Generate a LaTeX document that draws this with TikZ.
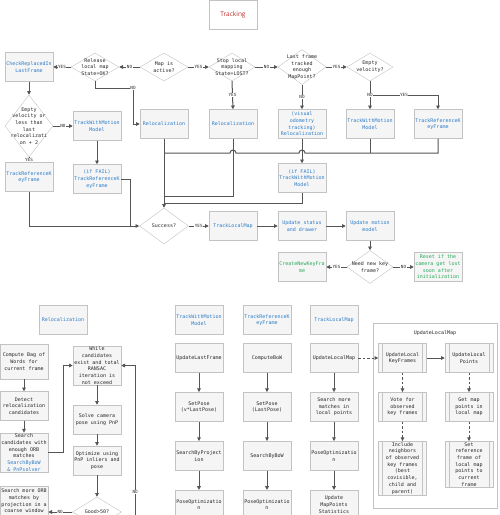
\documentclass[tikz,border=0pt]{standalone}
\usepackage{fontspec}
\usetikzlibrary{arrows.meta, shapes.geometric, positioning, calc, shadows}
\newfontfamily\codefont{DejaVu Sans Mono}
\newfontfamily\titlefont{Open Sans}
\definecolor{boxfill}{RGB}{245,245,245}
\definecolor{boxline}{RGB}{195,195,195}
\definecolor{linecol}{RGB}{85,85,85}
\definecolor{textgray}{RGB}{40,40,40}
\definecolor{callblue}{RGB}{45,125,200}
\definecolor{keepgreen}{RGB}{40,170,90}
\definecolor{titlered}{RGB}{190,45,45}

\begin{document}
\begin{tikzpicture}[
  x=1pt, y=-1pt,
  % --- styles ------------------------------------------------------------
  proc/.style={
    rectangle, draw=boxline, fill=boxfill,
    minimum width=48pt, minimum height=29pt, inner sep=1pt,
    align=center, text=textgray,
    font=\codefont\fontsize{5}{6.7}\selectfont,
    drop shadow={shadow xshift=0.8pt, shadow yshift=-0.8pt, opacity=0.2}
  },
  call/.style={proc, text=callblue},
  keep/.style={proc, text=keepgreen},
  sub/.style={proc, path picture={
    \draw[boxline, line width=0.5pt]
      ([xshift=4pt]path picture bounding box.north west) -- ([xshift=4pt]path picture bounding box.south west)
      ([xshift=-4pt]path picture bounding box.north east) -- ([xshift=-4pt]path picture bounding box.south east);
  }},
  panel/.style={
    rectangle, draw=boxline, fill=white,
    minimum width=124pt, minimum height=185pt,
    drop shadow={shadow xshift=0.8pt, shadow yshift=-0.8pt, opacity=0.12}
  },
  dtext/.style={align=center, text=textgray, font=\codefont\fontsize{5}{6.7}\selectfont},
  decision/.style={
    diamond, draw=boxline, fill=white, inner sep=0pt,
    minimum width=48pt, minimum height=28pt,
    label={[dtext]center:#1}
  },
  flow/.style={-{Triangle[length=3.8pt, width=3.6pt]}, draw=linecol, line width=1pt},
  dflow/.style={flow, dash pattern=on 2.5pt off 2pt},
  link/.style={draw=linecol, line width=1pt},
  yn/.style={fill=white, inner sep=0.5pt, text=textgray, font=\codefont\fontsize{4.3}{5}\selectfont},
  node distance = 19.5pt % vertical gap in the lower columns
]
\useasboundingbox (0,0) rectangle (500,515);
\clip (0,0) rectangle (500,515);
\fill[white] (0,0) rectangle (500,515);

% --------------------- title --------------------------------------------
\node[proc, fill=white, text=titlered, font=\titlefont\fontsize{6.5}{8}\selectfont] (tracking) at (233,15) {Tracking};

% --------------------- 1st row ------------------------------------------
\node[call] (check) at (29,67) {CheckReplacedIn\\LastFrame};
\node[decision={Release\\local map\\State=OK?}] (release) at (95,67) {};
\node[decision={Map is\\active?}] (mapact) at (164,67) {};
\node[decision={Stop local\\mapping\\State=LOST?}, minimum width=46pt] (stoplm) at (232,67) {};
\node[decision={Last frame\\tracked\\enough\\MapPoint?}, minimum height=35pt] (lastok) at (302,67) {};
\node[decision={Empty\\velocity?}, minimum width=46pt] (emptyv) at (370,67) {};

% --------------------- 2nd row ------------------------------------------
\node[decision={Empty\\velocity or\\less than\\last\\relocalizati\\on + 2}, minimum height=62pt] (emptyrel) at (29,126) {};
\node[call] (twmmA) at (97,126) {TrackWithMotion\\Model};
\node[call] (relocA) at (164,124) {Relocalization};
\node[call] (relocB) at (233,124) {Relocalization};
\node[call] (relocVO) at (302,124) {(visual\\odometry\\tracking)\\Relocalization};
\node[call] (twmmB) at (370,124) {TrackWithMotion\\Model};
\node[call] (trkfB) at (438,124) {TrackReferenceK\\eyFrame};

% --------------------- 3rd row ------------------------------------------
\node[call] (trkfA) at (29,177) {TrackReferenceK\\eyFrame};
\node[call] (failtrkf) at (97,179) {(if FAIL)\\TrackReferenceK\\eyFrame};
\node[call] (failtwmm) at (302,178) {(if FAIL)\\TrackWithMotion\\Model};

% --------------------- 4th row ------------------------------------------
\node[decision={Success?}, minimum width=49pt, minimum height=36pt] (success) at (164,226) {};
\node[call] (tlm) at (233,226) {TrackLocalMap};
\node[call] (updsd) at (302,226) {Update status\\and drawer};
\node[call] (updmm) at (370,226) {Update motion\\model};
\node[decision={Need new key\\frame?}, minimum width=46pt, minimum height=33pt] (needkf) at (370,267) {};
\node[keep] (createkf) at (302,267) {CreateNewKeyFra\\me};
\node[keep] (resetc) at (438,267) {Reset if the\\camera get lost\\soon after\\initialization};

% --------------------- main flow arrows ---------------------------------
\draw[flow] (mapact.west) -- node[yn]{NO} (release.east);
\draw[flow] (release.west) -- node[yn]{YES} (check.east);
\draw[flow] (mapact.east) -- node[yn]{YES} (stoplm.west);
\draw[flow] (stoplm.east) -- node[yn]{NO} (lastok.west);
\draw[flow] (lastok.east) -- node[yn]{YES} (emptyv.west);

% release -> relocalization (down, right, down)
\coordinate (relturn) at (133,88);
\draw[flow] (release.south) |- (relturn) |- (relocA.west);
\node[yn] (relno) at (relturn) {NO};

\draw[flow] (stoplm.south) -- node[yn]{YES} (relocB.north);
\draw[flow] (lastok.south) -- node[yn]{NO} (relocVO.north);

% empty velocity splits into two calls
\coordinate (vsplit) at (370,95);
\draw[flow] (emptyv.south) -- (twmmB.north);
\draw[flow] (vsplit) -| node[yn, pos=0.25]{YES} (trkfB.north);
\node[yn] (vsno) at (vsplit) {NO};

% left column
\draw[flow] (check.south) -- (emptyrel.north);
\draw[flow] (emptyrel.east) -- node[yn]{NO} (emptyrel.east -| twmmA.west);
\draw[flow] (emptyrel.south) -- node[yn]{YES} (trkfA.north);
\draw[flow] (twmmA.south) -- (failtrkf.north);
\draw[flow] (trkfA.south) |- (success.west);
\coordinate (failjoin) at (130,226);
\draw[link] (failtrkf.east) -| (failjoin);

% everything else merges into the line above Success
\draw[flow] (relocA.south) -- (success.north);
\coordinate (hopy) at (0,153);
\draw[link] (trkfB.south) |- ($(relocVO.south |- hopy)+(3,0)$)
  arc[start angle=0, end angle=180, radius=3pt] -- ($(relocB.south |- hopy)+(3,0)$)
  arc[start angle=0, end angle=180, radius=3pt] -- (relocA.south |- hopy);
\draw[link] (twmmB.south) -- (twmmB.south |- hopy);
\draw[flow] (relocVO.south) -- (failtwmm.north);
\coordinate (relocjoin) at (164,196);
\draw[link] (relocB.south) |- (relocjoin);
\coordinate (failjoinB) at (164,203);
\draw[link] (failtwmm.south) |- (failjoinB);

\draw[flow] (success.east) -- node[yn]{YES} (tlm.west);
\draw[flow] (tlm.east) -- (updsd.west);
\draw[flow] (updsd.east) -- (updmm.west);
\draw[flow] (updmm.south) -- (needkf.north);
\draw[flow] (needkf.east) -- node[yn]{NO} (resetc.west);
\draw[flow] (needkf.west) -- node[yn]{YES} (createkf.east);

% --------------------- Relocalization detail ----------------------------
\node[call] (relotitle) at (63,320) {Relocalization};
\node[proc, minimum height=35pt] (cbow) at (24,361.5) {Compute Bag of\\Words for\\current frame};
\node[proc] (detect) at (24,406) {Detect\\relocalization\\candidates};
\node[proc] (searchc) at (24,452.5) {Search\\candidates with\\enough ORB\\matches\\\textcolor{callblue}{SearchByBoW}\\\textcolor{callblue}{\& PnPsolver}};
\node[proc] (searchm) at (24,501) {Search more ORB\\matches by\\projection in a\\coarse window};
\node[proc] (whilec) at (97,365.5) {While\\candidates\\exist and total\\RANSAC\\iteration is\\not exceed};
\node[proc] (solvep) at (97,419.5) {Solve camera\\pose using PnP};
\node[proc] (optp) at (97,460.5) {Optimize using\\PnP inliers and\\pose};
\node[decision={Good>50?}, minimum width=49pt, minimum height=30pt] (goodm) at (97,512) {};

\draw[flow] (cbow.south) -- (detect.north);
\draw[flow] (detect.south) -- (searchc.north);
\draw[flow] (searchc.east) -- ++(15,0) |- (whilec.west);
\draw[flow] (whilec.south) -- (solvep.north);
\draw[flow] (solvep.south) -- (optp.north);
\draw[flow] (optp.south) -- (goodm.north);
\draw[flow] (goodm.west) -- node[yn]{NO} (goodm.west -| searchm.east);
\draw[flow] (goodm.south) -- ++(0,5) -| node[yn, pos=0.62]{NO} ($(whilec.east)+(14,0)$) -- (whilec.east);

% --------------------- TrackWithMotionModel detail ----------------------
\node[call] (twmmtitle) at (199,320) {TrackWithMotion\\Model};
\node[proc] (ulf) at (199,358) {UpdateLastFrame};
\node[proc, below=of ulf] (setposev) {SetPose\\(v*LastPose)};
\node[proc, below=of setposev] (sbp) {SearchByProject\\ion};
\node[proc, below=of sbp] (poA) {PoseOptimizatio\\n};
\draw[flow] (ulf.south) -- (setposev.north);
\draw[flow] (setposev.south) -- (sbp.north);
\draw[flow] (sbp.south) -- (poA.north);

% --------------------- TrackReferenceKeyFrame detail --------------------
\node[call] (trkftitle) at (267,320) {TrackReferenceK\\eyFrame};
\node[proc] (cbowB) at (267,358) {ComputeBoW};
\node[proc, below=of cbowB] (setposel) {SetPose\\(LastPose)};
\node[proc, below=of setposel] (sbbow) {SearchByBoW};
\node[proc, below=of sbbow] (poB) {PoseOptimizatio\\n};
\draw[flow] (cbowB.south) -- (setposel.north);
\draw[flow] (setposel.south) -- (sbbow.north);
\draw[flow] (sbbow.south) -- (poB.north);

% --------------------- TrackLocalMap detail -----------------------------
\node[call] (tlmtitle) at (334,320) {TrackLocalMap};
\node[proc] (ulm) at (334,358) {UpdateLocalMap};
\node[proc, below=of ulm] (smm) {Search more\\matches in\\local points};
\node[proc, below=of smm] (poC) {PoseOptimizatio\\n};
\node[proc, below=of poC] (umps) {Update\\MapPoints\\Statistics};
\draw[flow] (ulm.south) -- (smm.north);
\draw[flow] (smm.south) -- (poC.north);
\draw[flow] (poC.south) -- (umps.north);

% --------------------- UpdateLocalMap panel -----------------------------
\node[panel] (ulmpanel) at (435,415.5) {};
\node[dtext, below=4pt of ulmpanel.north] (ulmlabel) {UpdateLocalMap};
\node[sub] (ulkf) at (402.5,358) {UpdateLocal\\KeyFrames};
\node[sub, below=of ulkf] (vote) {Vote for\\observed\\key frames};
\node[sub, below=of vote] (inclnb) {Include\\neighbors\\of observed\\key frames\\(best\\covisible,\\child and\\parent)};
\node[sub] (ulp) at (469,358) {UpdateLocal\\Points};
\node[sub, below=of ulp] (getmp) {Get map\\points in\\local map};
\node[sub, below=of getmp] (setref) {Set\\reference\\frame of\\local map\\points to\\current\\frame};

\draw[dflow] (ulm.east) -- (ulkf.west);
\draw[flow] (ulkf.east) -- (ulp.west);
\draw[dflow] (ulkf.south) -- (vote.north);
\draw[dflow] (vote.south) -- (inclnb.north);
\draw[dflow] (ulp.south) -- (getmp.north);
\draw[dflow] (getmp.south) -- (setref.north);

\end{tikzpicture}
\end{document}
